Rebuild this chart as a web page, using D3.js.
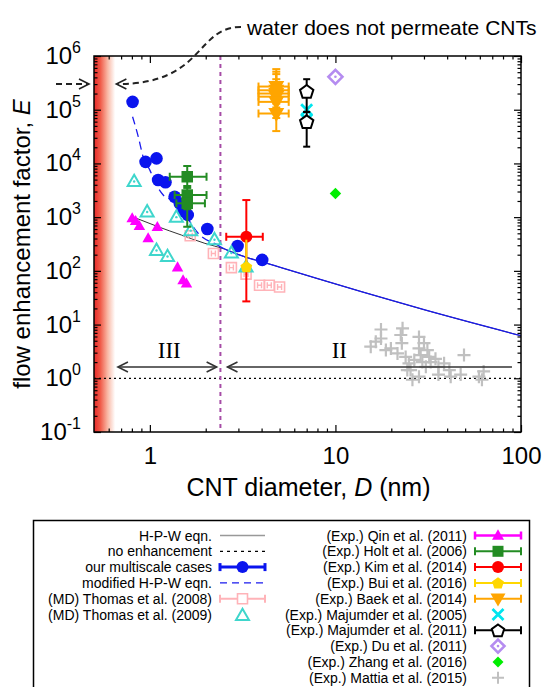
<!DOCTYPE html>
<html>
<head>
<meta charset="utf-8">
<script src="https://cdn.jsdelivr.net/npm/d3@7"></script>
<style>
body { margin:0; background:#fff; }
svg { display:block; }
text { font-family:"Liberation Sans", Arial, Helvetica, sans-serif; }
</style>
</head>
<body>
<div id="chart-area"></div>
<script>
// ---- data ----
var xMajorTicks = [1, 10, 100];
var yMajorTicks = [0.1, 1, 10, 100, 1e3, 1e4, 1e5, 1e6];
var yTickExp = ["-1", "0", "1", "2", "3", "4", "5", "6"];

// H-P-W eqn (thin black line)
var hpwD = [0.848, 1.108, 1.48, 1.98, 2.53, 3.24, 4.24, 5.0, 7.86, 13.5, 30.7, 100];
var hpwE = [950, 662, 464, 325, 255, 183, 140, 117, 73, 42, 18.5, 6.2];

// modified H-P-W eqn (blue)
var modD = [0.807, 0.865, 0.92, 1.0, 1.086, 1.18, 1.31, 1.39, 1.575, 1.82, 2.23, 2.53, 3.24, 4.24, 5.0, 7.86, 13.5, 30.7, 100];
var modE = [7.4e4, 3.2e4, 1.33e4, 7.5e3, 3.96e3, 2.58e3, 2.08e3, 1.8e3, 1.02e3, 500, 325, 255, 183, 140, 117, 73, 42, 18.5, 6.2];

// our multiscale cases
var msD = [0.807, 0.948, 1.086, 1.108, 1.214, 1.36, 1.45, 1.52, 1.6, 2.04, 2.97, 4.03];
var msE = [1.4e5, 1.07e4, 1.24e4, 4.9e3, 4.45e3, 2.4e3, 1.8e3, 1.3e3, 1.1e3, 600, 290, 160];

// (MD) Thomas et al. (2008)
var th08D = [1.65, 2.2, 2.75, 3.3, 3.9, 4.4, 5.0];
var th08E = [450, 210, 115, 87, 54, 54, 50];

// (MD) Thomas et al. (2009)
var th09D = [0.823, 0.967, 1.39, 1.086, 1.245, 1.66, 2.23, 2.75, 3.3];
var th09E = [4600, 1250, 1000, 240, 185, 560, 380, 215, 118];

// (Exp.) Qin et al. (2011)
var qinD = [0.803, 0.838, 0.878, 1.097, 0.979, 1.41, 1.51, 1.575];
var qinE = [950, 845, 683, 655, 403, 116, 67, 58];

// (Exp.) Holt et al. (2006)
var holtD = [1.59, 1.59, 1.59];
var holtDlo = [1.28, 1.36, 1.39];
var holtDhi = [2.02, 2.02, 1.98];
var holtE = [5650, 2580, 1810];
var holtElo = [3500, 1400, 662];
var holtEhi = [8950, 3800, 2600];

// (Exp.) Kim et al. (2014)
var kimD = [3.31], kimDlo = [2.58], kimDhi = [4.06];
var kimE = [431], kimElo = [27], kimEhi = [2080];

// (Exp.) Bui et al. (2016)
var buiD = [3.31], buiDlo = [3.31], buiDhi = [3.31];
var buiE = [120], buiElo = [100], buiEhi = [380];

// (Exp.) Baek et al. (2014)
var baekD = [4.8, 4.8, 4.8, 4.8, 4.8, 4.8];
var baekDlo = [3.85, 3.85, 3.85, 3.85, 3.85, 3.85];
var baekDhi = [5.6, 5.6, 5.6, 5.6, 5.6, 5.6];
var baekE = [2.7e5, 2.3e5, 2.0e5, 1.75e5, 1.4e5, 8.5e4];
var baekElo = [1.5e5, 1.3e5, 1.1e5, 1.0e5, 7e4, 4e4];
var baekEhi = [5.7e5, 5.1e5, 4.6e5, 3.7e5, 3.0e5, 1.5e5];

// (Exp.) Majumder et al. (2005)
var maj05D = [7.0, 7.0];
var maj05E = [1.0e5, 6.5e4];

// (Exp.) Majumder et al. (2011)
var maj11D = [7.0, 7.0];
var maj11E = [2.2e5, 6.0e4];
var maj11Elo = [9.1e4, 2.05e4];
var maj11Ehi = [3.7e5, 9.1e4];

// (Exp.) Du et al. (2011)
var duD = [10], duE = [4.1e5];
// (Exp.) Zhang et al. (2016)
var zhangD = [10], zhangE = [2770];

// (Exp.) Mattia et al. (2015)
var mattiaD = [15.5, 16.5, 17.6, 17.6, 18.7, 19.9, 21.6, 22.5, 23.0, 22.8, 23.9, 24.9, 25.4, 26.6, 28.2, 28.2, 28.8, 29.4, 30.0, 31.3, 30.7, 32.0, 28.2, 32.6, 34.6, 35.9, 35.9, 38.5, 41.1, 41.8, 47.3, 49.3, 59.3, 62.9, 61.6, 26.0, 24.4];
var mattiaE = [3.87, 4.8, 8.1, 5.5, 3.35, 3.6, 2.9, 6.4, 8.5, 4.5, 2.5, 1.9, 1.42, 2.2, 5.9, 3.6, 2.7, 2.0, 4.5, 3.35, 1.64, 2.5, 1.07, 2.0, 2.3, 1.64, 1.17, 1.9, 1.42, 1.07, 1.17, 2.7, 1.07, 1.34, 0.94, 0.94, 1.42];

// annotations
var noPermeateD = 0.65;      // red band edge
var regimeD = 2.4;           // III / II boundary
var regimeArrowE = 1.62;
var regimeIII = [0.673, 2.29];
var regimeII = [2.62, 89.4];
var arrowE = 3e5;

var legendLeft = ["H-P-W eqn.", "no enhancement", "our multiscale cases", "modified H-P-W eqn.",
    "(MD) Thomas et al. (2008)", "(MD) Thomas et al. (2009)"];
var legendRight = ["(Exp.) Qin et al. (2011)", "(Exp.) Holt et al. (2006)", "(Exp.) Kim et al. (2014)",
    "(Exp.) Bui et al. (2016)", "(Exp.) Baek et al. (2014)", "(Exp.) Majumder et al. (2005)",
    "(Exp.) Majumder et al. (2011)", "(Exp.) Du et al. (2011)", "(Exp.) Zhang et al. (2016)",
    "(Exp.) Mattia et al. (2015)"];

// ---- layout ----
var margin = { left:94, right:25, top:56, bottom:255 };
var width = 546 - margin.left - margin.right,
    height = 687 - margin.top - margin.bottom;

var svg = d3.select("#chart-area").append("svg")
    .attr("width", 546).attr("height", 687);

var defs = svg.append("defs");
var grad = defs.append("linearGradient").attr("id", "redfade")
    .attr("x1", "0").attr("x2", "1").attr("y1", "0").attr("y2", "0");
grad.append("stop").attr("offset", "0%").attr("stop-color", "#e62a2a");
grad.append("stop").attr("offset", "30%").attr("stop-color", "#f05a48");
grad.append("stop").attr("offset", "65%").attr("stop-color", "#f9b9a6");
grad.append("stop").attr("offset", "100%").attr("stop-color", "#ffffff");

defs.append("clipPath").attr("id", "plotclip")
    .append("rect").attr("width", width).attr("height", height);

var g = svg.append("g")
    .attr("transform", "translate(" + margin.left + "," + margin.top + ")");

var x = d3.scaleLog().domain([0.5, 100]).range([0, width]);
var y = d3.scaleLog().domain([0.1, 1e6]).range([height, 0]);

// marker shapes
function shape(type, s) {
    var h = s / 2, p;
    switch (type) {
        case "circle": return d3.symbol(d3.symbolCircle, Math.PI * h * h)();
        case "square": return "M" + (-h) + "," + (-h) + "H" + h + "V" + h + "H" + (-h) + "Z";
        case "triUp": return "M0," + (-h * 1.05) + "L" + h + "," + (h * 0.7) + "L" + (-h) + "," + (h * 0.7) + "Z";
        case "triDown": return "M0," + (h * 1.05) + "L" + h + "," + (-h * 0.7) + "L" + (-h) + "," + (-h * 0.7) + "Z";
        case "diamond": return "M0," + (-h) + "L" + h + ",0L0," + h + "L" + (-h) + ",0Z";
        case "plus": return "M" + (-h) + ",0H" + h + "M0," + (-h) + "V" + h;
        case "x": return "M" + (-h) + "," + (-h) + "L" + h + "," + h + "M" + (-h) + "," + h + "L" + h + "," + (-h);
        case "pentagon":
            p = d3.range(5).map(function(k) {
                var a = -Math.PI / 2 + k * 2 * Math.PI / 5;
                return [h * Math.cos(a), h * Math.sin(a) + h * 0.1];
            });
            return "M" + p.join("L") + "Z";
    }
}

function zip(D, E) { return D.map(function(d, i) { return { d:d, e:E[i], i:i }; }); }

function errorBars(layer, D, Dlo, Dhi, E, Elo, Ehi, color, lw, cap) {
    D.forEach(function(d, i) {
        var cx = x(d), cy = y(E[i]);
        if (Elo) {
            layer.append("line").attr("x1", cx).attr("x2", cx)
                .attr("y1", y(Elo[i])).attr("y2", y(Ehi[i]))
                .attr("stroke", color).attr("stroke-width", lw);
            [Elo[i], Ehi[i]].forEach(function(v) {
                layer.append("line").attr("x1", cx - cap).attr("x2", cx + cap)
                    .attr("y1", y(v)).attr("y2", y(v))
                    .attr("stroke", color).attr("stroke-width", lw);
            });
        }
        if (Dlo && Dlo[i] !== Dhi[i]) {
            layer.append("line").attr("x1", x(Dlo[i])).attr("x2", x(Dhi[i]))
                .attr("y1", cy).attr("y2", cy)
                .attr("stroke", color).attr("stroke-width", lw);
            [Dlo[i], Dhi[i]].forEach(function(v) {
                layer.append("line").attr("x1", x(v)).attr("x2", x(v))
                    .attr("y1", cy - cap).attr("y2", cy + cap)
                    .attr("stroke", color).attr("stroke-width", lw);
            });
        }
    });
}

function markers(layer, D, E, type, size, fill, stroke, sw) {
    layer.selectAll(null).data(zip(D, E)).enter()
        .append("path")
        .attr("d", shape(type, size))
        .attr("transform", function(p) { return "translate(" + x(p.d) + "," + y(p.e) + ")"; })
        .attr("fill", fill).attr("stroke", stroke).attr("stroke-width", sw);
}

function dots(layer, D, E, color, r) {
    layer.selectAll(null).data(zip(D, E)).enter()
        .append("circle")
        .attr("cx", function(p) { return x(p.d); })
        .attr("cy", function(p) { return y(p.e); })
        .attr("r", r).attr("fill", color);
}

// red band: water does not permeate
g.append("rect").attr("x", 0).attr("y", 0)
    .attr("width", x(noPermeateD)).attr("height", height)
    .attr("fill", "url(#redfade)");

var plot = g.append("g").attr("clip-path", "url(#plotclip)");

// no enhancement
plot.append("line").attr("x1", 0).attr("x2", width)
    .attr("y1", y(1)).attr("y2", y(1))
    .attr("stroke", "#000").attr("stroke-width", 1.2).attr("stroke-dasharray", "2,3");

// regime boundary
plot.append("line").attr("x1", x(regimeD)).attr("x2", x(regimeD))
    .attr("y1", 0).attr("y2", height)
    .attr("stroke", "#a64ca6").attr("stroke-width", 2).attr("stroke-dasharray", "4,4");

var line = d3.line().x(function(p) { return x(p.d); }).y(function(p) { return y(p.e); })
    .curve(d3.curveMonotoneX);

// H-P-W eqn.
plot.append("path").datum(zip(hpwD, hpwE)).attr("d", line)
    .attr("fill", "none").attr("stroke", "#333").attr("stroke-width", 1);

// modified H-P-W eqn.
var modPts = zip(modD, modE);
plot.append("path").datum(modPts.filter(function(p) { return p.d <= 2.23; })).attr("d", line)
    .attr("fill", "none").attr("stroke", "#1a1aee").attr("stroke-width", 1.3)
    .attr("stroke-dasharray", "8,5");
plot.append("path").datum(modPts.filter(function(p) { return p.d >= 2.23; })).attr("d", line)
    .attr("fill", "none").attr("stroke", "#1a1aee").attr("stroke-width", 1.3);

// our multiscale cases
dots(plot, msD, msE, "#0a14ee", 6.3);

// Thomas 2008 (MD)
var th = plot.append("g");
markers(th, th08D, th08E, "square", 10, "none", "#ffb3b8", 1.6);
th.selectAll(null).data(zip(th08D, th08E)).enter().append("path")
    .attr("d", "M-2,-3V3M2,-3V3M-2,0H2")
    .attr("transform", function(p) { return "translate(" + x(p.d) + "," + y(p.e) + ")"; })
    .attr("stroke", "#ffb3b8").attr("stroke-width", 1.4).attr("fill", "none");

// Thomas 2009 (MD)
markers(plot, th09D, th09E, "triUp", 13, "none", "#3fd6cc", 2);
dots(plot, th09D, th09E, "#3fd6cc", 1.2);

// Qin 2011
markers(plot, qinD, qinE, "triUp", 11.5, "#ff00ff", "none", 0);

// Holt 2006
errorBars(plot, holtD, holtDlo, holtDhi, holtE, holtElo, holtEhi, "#238c23", 2, 4);
markers(plot, holtD, holtE, "square", 11.5, "#238c23", "none", 0);

// Kim 2014
errorBars(plot, kimD, kimDlo, kimDhi, kimE, kimElo, kimEhi, "#ff0000", 2, 4);
dots(plot, kimD, kimE, "#ff0000", 6);

// Bui 2016
errorBars(plot, buiD, buiDlo, buiDhi, buiE, buiElo, buiEhi, "#ffd700", 2, 0);
markers(plot, buiD, buiE, "pentagon", 12.5, "#ffd700", "none", 0);

// Baek 2014
errorBars(plot, baekD, baekDlo, baekDhi, baekE, baekElo, baekEhi, "#ffa500", 2, 4);
markers(plot, baekD, baekE, "triDown", 16, "#ffa500", "none", 0);

// Majumder 2005
markers(plot, maj05D, maj05E, "x", 11, "none", "#00e5ee", 2.8);

// Majumder 2011
errorBars(plot, maj11D, null, null, maj11E, maj11Elo, maj11Ehi, "#000", 2, 3.5);
markers(plot, maj11D, maj11E, "pentagon", 14, "#fff", "#000", 2);

// Du 2011
markers(plot, duD, duE, "diamond", 14, "#fff", "#b58cf0", 2.6);
dots(plot, duD, duE, "#b58cf0", 1.3);

// Zhang 2016
markers(plot, zhangD, zhangE, "diamond", 11.5, "#00ee00", "none", 0);

// Mattia 2015
markers(plot, mattiaD, mattiaE, "plus", 13, "none", "#c0c0c0", 2.2);

// regime arrows
function openHead(layer, tipX, tipY, dir, color) {
    // dir = -1 points left, +1 points right
    layer.append("path")
        .attr("d", "M" + (tipX - dir * 10) + "," + (tipY - 5) + "L" + tipX + "," + tipY + "L" + (tipX - dir * 10) + "," + (tipY + 5))
        .attr("fill", "none").attr("stroke", color).attr("stroke-width", 1.6);
}
var ay = y(regimeArrowE);
g.append("line").attr("x1", x(regimeIII[0])).attr("x2", x(regimeIII[1]))
    .attr("y1", ay).attr("y2", ay).attr("stroke", "#333").attr("stroke-width", 1.6);
openHead(g, x(regimeIII[0]), ay, -1, "#333");
openHead(g, x(regimeIII[1]), ay, 1, "#333");
g.append("line").attr("x1", x(regimeII[0])).attr("x2", x(regimeII[1]))
    .attr("y1", ay).attr("y2", ay).attr("stroke", "#333").attr("stroke-width", 1.6);
openHead(g, x(regimeII[0]), ay, -1, "#333");

g.append("text").attr("x", x(Math.sqrt(regimeIII[0] * regimeIII[1])) + 2).attr("y", ay - 9)
    .attr("text-anchor", "middle").attr("font-size", "23px")
    .style("font-family", "'Liberation Serif', 'Times New Roman', serif")
    .text("III");
g.append("text").attr("x", x(10.5)).attr("y", ay - 9)
    .attr("text-anchor", "middle").attr("font-size", "23px")
    .style("font-family", "'Liberation Serif', 'Times New Roman', serif")
    .text("II");

// axes
function clean(sel) { sel.select(".domain").remove(); sel.selectAll("line").attr("stroke-width", 1.2); }
var xMinorTicks = x.ticks().filter(function(v) { return xMajorTicks.indexOf(v) < 0 && v > 0.5; });
var yMinorTicks = y.ticks().filter(function(v) {
    return !yMajorTicks.some(function(m) { return Math.abs(m - v) / m < 1e-9; });
});

var xAxisCall = d3.axisBottom(x).tickValues(xMajorTicks).tickSize(-7).tickPadding(15)
    .tickFormat(d3.format("~g"));
var xAxisGroup = g.append("g").attr("transform", "translate(0," + height + ")").call(xAxisCall).call(clean);
xAxisGroup.selectAll("text").attr("font-size", "24px")
    .style("font-family", "'Liberation Sans', Arial, sans-serif").attr("fill", "#000");
g.append("g").attr("transform", "translate(0," + height + ")")
    .call(d3.axisBottom(x).tickValues(xMinorTicks).tickSize(-3.5).tickFormat("")).call(clean);
g.append("g").call(d3.axisTop(x).tickValues(xMajorTicks).tickSize(-7).tickFormat("")).call(clean);
g.append("g").call(d3.axisTop(x).tickValues(xMinorTicks).tickSize(-3.5).tickFormat("")).call(clean);

g.append("g").call(d3.axisLeft(y).tickValues(yMajorTicks).tickSize(-7).tickFormat("")).call(clean);
g.append("g").call(d3.axisLeft(y).tickValues(yMinorTicks).tickSize(-3.5).tickFormat("")).call(clean);
g.append("g").attr("transform", "translate(" + width + ",0)")
    .call(d3.axisRight(y).tickValues(yMajorTicks).tickSize(-7).tickFormat("")).call(clean);
g.append("g").attr("transform", "translate(" + width + ",0)")
    .call(d3.axisRight(y).tickValues(yMinorTicks).tickSize(-3.5).tickFormat("")).call(clean);

// y tick labels 10^n
yMajorTicks.forEach(function(v, i) {
    var t = g.append("text").attr("x", -13).attr("y", y(v) + 8)
        .attr("text-anchor", "end").attr("font-size", "24px").attr("fill", "#000");
    t.append("tspan").text("10");
    t.append("tspan").attr("dy", -11).attr("font-size", "16px").text(yTickExp[i]);
});

// frame
g.append("rect").attr("width", width).attr("height", height)
    .attr("fill", "none").attr("stroke", "#000").attr("stroke-width", 1.5);

// axis titles
var yLabel = svg.append("text")
    .attr("transform", "translate(30," + (margin.top + height / 2) + ") rotate(-90)")
    .attr("text-anchor", "middle").attr("font-size", "24px").attr("fill", "#000");
yLabel.append("tspan").text("flow enhancement factor, ");
yLabel.append("tspan").attr("font-style", "italic").text("E");

var xLabel = svg.append("text")
    .attr("x", margin.left + width / 2 + 1).attr("y", 496)
    .attr("text-anchor", "middle").attr("font-size", "25px").attr("fill", "#000");
xLabel.append("tspan").text("CNT diameter, ");
xLabel.append("tspan").attr("font-style", "italic").text("D");
xLabel.append("tspan").text(" (nm)");

// "water does not permeate CNTs" annotation
svg.append("text").attr("x", 247).attr("y", 35).attr("font-size", "21px").attr("fill", "#000")
    .text("water does not permeate CNTs");
var headY = margin.top + y(arrowE);
var tipX = margin.left + x(0.66);
svg.append("path")
    .attr("d", "M241,27 C195,27 205," + headY + " " + (tipX + 1) + "," + headY)
    .attr("fill", "none").attr("stroke", "#222").attr("stroke-width", 2).attr("stroke-dasharray", "6,4");
openHead(svg, tipX, headY, -1, "#222");
svg.append("line").attr("x1", 56).attr("x2", margin.left - 6).attr("y1", headY).attr("y2", headY)
    .attr("stroke", "#222").attr("stroke-width", 2).attr("stroke-dasharray", "6,4");
openHead(svg, margin.left - 5, headY, 1, "#222");

// ---- legend ----
var lg = svg.append("g");
lg.append("rect").attr("x", 33.5).attr("y", 520.5).attr("width", 496).attr("height", 200)
    .attr("fill", "none").attr("stroke", "#000").attr("stroke-width", 1.5);

function rowY(i) { return 535.5 + i * 15.8; }

legendLeft.forEach(function(t, i) {
    lg.append("text").attr("x", 212).attr("y", rowY(i) + 5)
        .attr("text-anchor", "end").attr("font-size", "14px").attr("fill", "#000").text(t);
});
legendRight.forEach(function(t, i) {
    lg.append("text").attr("x", 467).attr("y", rowY(i) + 5)
        .attr("text-anchor", "end").attr("font-size", "14px").attr("fill", "#000").text(t);
});

function lgLine(x1, x2, yy, color, w, dash) {
    lg.append("line").attr("x1", x1).attr("x2", x2).attr("y1", yy).attr("y2", yy)
        .attr("stroke", color).attr("stroke-width", w).attr("stroke-dasharray", dash || null);
}
function lgErr(x1, x2, yy, color, w) {
    lgLine(x1, x2, yy, color, w);
    [x1, x2].forEach(function(xx) {
        lg.append("line").attr("x1", xx).attr("x2", xx).attr("y1", yy - 4).attr("y2", yy + 4)
            .attr("stroke", color).attr("stroke-width", w);
    });
}
function lgSym(cx, cy, type, size, fill, stroke, sw) {
    lg.append("path").attr("d", shape(type, size)).attr("transform", "translate(" + cx + "," + cy + ")")
        .attr("fill", fill).attr("stroke", stroke).attr("stroke-width", sw);
}

var L1 = 220, L2 = 265, LC = 242.5;
lgLine(L1, L2, rowY(0), "#999", 1.3);
lgLine(L1, L2, rowY(1), "#000", 1.2, "3,4");
lgErr(L1, L2, rowY(2), "#0a14ee", 3);
lgSym(LC, rowY(2), "circle", 12, "#0a14ee", "none", 0);
lgLine(L1, L2, rowY(3), "#1a1aee", 1.3, "7,5");
lgErr(L1, L2, rowY(4), "#ffb3b8", 2);
lgSym(LC, rowY(4), "square", 10, "#fff", "#ffb3b8", 1.6);
lgSym(LC, rowY(5) + 1, "triUp", 13, "none", "#3fd6cc", 2);

var R1 = 475, R2 = 521, RC = 498;
lgErr(R1, R2, rowY(0), "#ff00ff", 2.5);
lgSym(RC, rowY(0), "triUp", 12, "#ff00ff", "none", 0);
lgErr(R1, R2, rowY(1), "#238c23", 2);
lgSym(RC, rowY(1), "square", 11, "#238c23", "none", 0);
lgErr(R1, R2, rowY(2), "#ff0000", 2);
lgSym(RC, rowY(2), "circle", 12, "#ff0000", "none", 0);
lgErr(R1, R2, rowY(3), "#ffd700", 2);
lgSym(RC, rowY(3), "pentagon", 12.5, "#ffd700", "none", 0);
lgErr(R1, R2, rowY(4), "#ffa500", 2);
lgSym(RC, rowY(4), "triDown", 15, "#ffa500", "none", 0);
lgSym(RC, rowY(5), "x", 11, "none", "#00e5ee", 2.8);
lgErr(R1, R2, rowY(6), "#000", 2);
lgSym(RC, rowY(6), "pentagon", 13, "#fff", "#000", 2);
lgSym(RC, rowY(7), "diamond", 13, "#fff", "#b58cf0", 2.6);
lg.append("circle").attr("cx", RC).attr("cy", rowY(7)).attr("r", 1.3).attr("fill", "#b58cf0");
lgSym(RC, rowY(8), "diamond", 11, "#00ee00", "none", 0);
lgSym(RC, rowY(9), "plus", 12, "none", "#c0c0c0", 2);
</script>
</body>
</html>
